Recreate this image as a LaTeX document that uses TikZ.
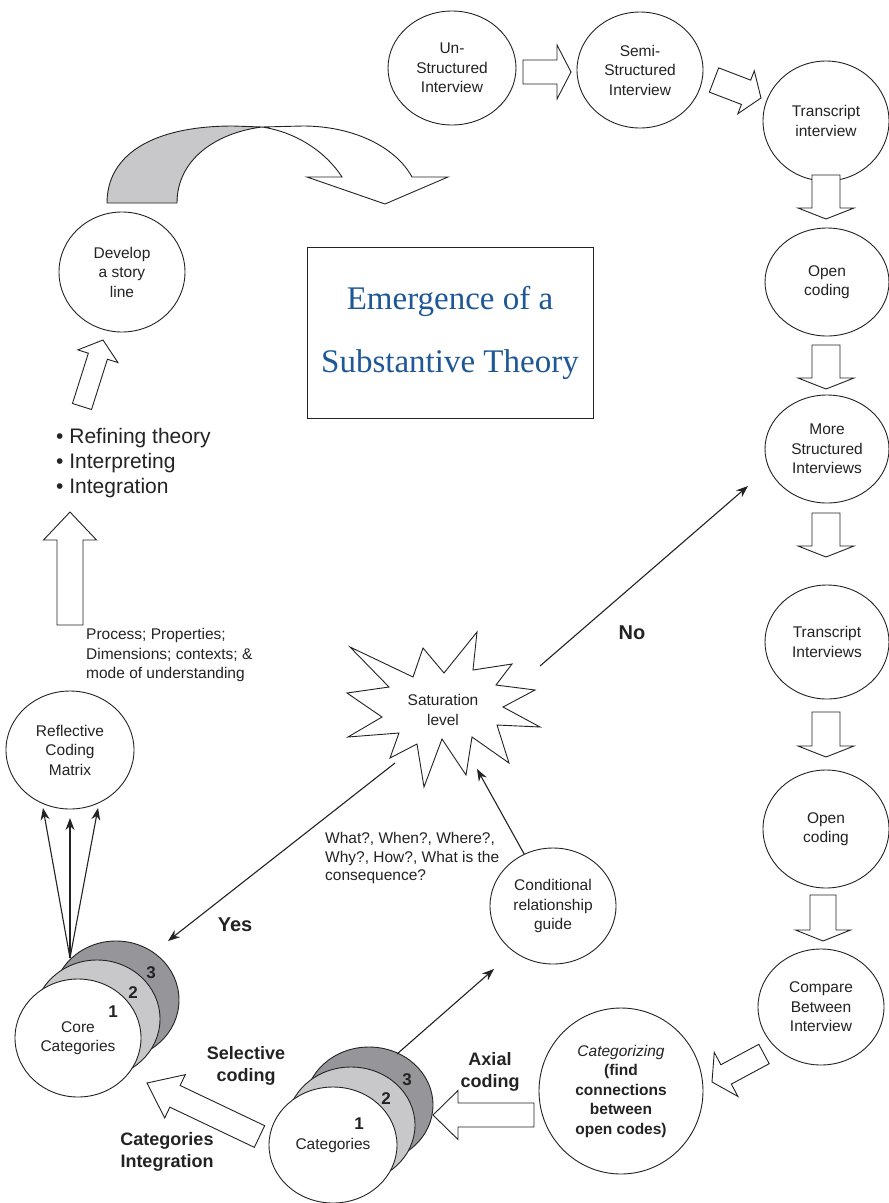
\documentclass[tikz,border=0pt]{standalone}
\usepackage{fontspec}
\setmainfont{Liberation Sans}
\newfontfamily\titlefont{Liberation Serif}
\usetikzlibrary{shapes.geometric,arrows.meta,calc}
\definecolor{ink}{RGB}{35,35,35}
\definecolor{titleblue}{RGB}{30,88,150}
\definecolor{lightgrey}{RGB}{200,200,203}
\definecolor{darkgrey}{RGB}{150,150,154}
% hollow block arrow: #1 tail centre, #2 tip, #3 shaft half-width, #4 head half-width, #5 head length
\newcommand{\blockarrow}[5]{%
  \coordinate (bah) at ($#2!#5!#1$);
  \draw[hollowarrow] ($#1!#3!90:#2$) -- ($(bah)!#3!90:#2$) -- ($(bah)!#4!90:#2$) -- #2
    -- ($(bah)!#4!-90:#2$) -- ($(bah)!#3!-90:#2$) -- ($#1!#3!-90:#2$) -- cycle;}
\begin{document}
\begin{tikzpicture}[x=1pt,y=-1pt,
  bubble/.style={ellipse,draw=ink,line width=0.9pt,fill=white,inner sep=0pt,align=center,
    text=ink,font=\fontsize{15.5}{19.5}\selectfont},
  hollowarrow/.style={draw=ink,fill=white,line width=0.9pt,line join=miter},
  conn/.style={draw=ink,line width=1.1pt,-{Stealth[length=12pt,width=9pt]}},
  lbl/.style={text=ink,align=left,inner sep=0pt,font=\fontsize{15.5}{19.5}\selectfont},
  boldlbl/.style={text=ink,align=center,inner sep=0pt,font=\fontsize{18}{21.5}\selectfont\bfseries},
  num/.style={text=ink,inner sep=0pt,font=\fontsize{17}{20}\selectfont\bfseries}]
\path[use as bounding box,fill=white] (0,0) rectangle (889,1203);

% ---- interview circles along the top and right ----
\node[bubble,minimum width=128pt,minimum height=114pt] (un) at (452,68) {Un-\\Structured\\Interview};
\node[bubble,minimum width=126pt,minimum height=116pt] (semi) at (640,70) {Semi-\\Structured\\Interview};
\node[bubble,minimum width=126pt,minimum height=120pt] (trans1) at (826,121) {Transcript\\interview};
\node[bubble,minimum width=124pt,minimum height=108pt] (open1) at (827,282) {Open\\coding};
\node[bubble,minimum width=124pt,minimum height=108pt] (more) at (827,449) {More\\Structured\\Interviews};
\node[bubble,minimum width=124pt,minimum height=114pt] (trans2) at (827,642) {Transcript\\Interviews};
\node[bubble,minimum width=126pt,minimum height=118pt] (open2) at (826,829) {Open\\coding};
\node[bubble,minimum width=126pt,minimum height=116pt] (compare) at (821,1007) {Compare\\Between\\Interview};
\node[bubble,minimum width=164pt,minimum height=166pt] (categ) at (621,1091)
  {\itshape Categorizing\\\bfseries (find\\\bfseries connections\\\bfseries between\\\bfseries open codes)};
\node[bubble,minimum width=126pt,minimum height=116pt] (cond) at (553,906) {Conditional\\relationship\\guide};
\node[bubble,minimum width=128pt,minimum height=118pt] (reflect) at (70,750) {Reflective\\Coding\\Matrix};
\node[bubble,minimum width=126pt,minimum height=120pt] (story) at (122,272) {Develop\\a story\\line};

% ---- stacked category circles ----
\node[bubble,fill=darkgrey,minimum width=126pt,minimum height=118pt] (core3) at (116,1000) {};
\node[bubble,fill=lightgrey,minimum width=126pt,minimum height=118pt] (core2) at (97,1019) {};
\node[bubble,minimum width=126pt,minimum height=118pt] (core) at (78,1038) {Core\\Categories};
\node[num] (c1) at (113,1012) {1};
\node[num] (c2) at (133,993) {2};
\node[num] (c3) at (151,973) {3};

\node[bubble,fill=darkgrey,minimum width=128pt,minimum height=116pt] (cat3) at (369,1105) {};
\node[bubble,fill=lightgrey,minimum width=128pt,minimum height=116pt] (cat2) at (351,1125) {};
\node[bubble,minimum width=128pt,minimum height=116pt] (cat) at (333,1145) {Categories};
\node[num] (k1) at (359,1124) {1};
\node[num] (k2) at (386,1099) {2};
\node[num] (k3) at (407,1080) {3};

% ---- central title box ----
\node[draw=ink,line width=0.9pt,minimum width=286pt,minimum height=171pt,align=center,
  text=titleblue,font=\titlefont\fontsize{33}{63}\selectfont] (theory) at (450,332.5)
  {Emergence of a\\Substantive Theory};

% ---- saturation starburst ----
\draw[draw=ink,line width=0.9pt,fill=white,line join=miter]
  (477,632) -- (473,670) -- (512,664) -- (496,685) -- (535,690) -- (503,707) -- (540,727)
  -- (497,725) -- (509,763) -- (472,737) -- (466,775) -- (442,739) -- (424,787) -- (417,744)
  -- (390,758) -- (399,733) -- (348,737) -- (382,717) -- (347,693) -- (389,687) -- (350,647)
  -- (413,677) -- (423,648) -- (444,673) -- cycle;
\node[bubble,draw=none,fill=none] (sat) at (443,710) {Saturation\\level};

% ---- hollow block arrows ----
\blockarrow{(523,72)}{(571,72)}{12pt}{27pt}{14pt}
\blockarrow{(714,80)}{(761,98)}{13pt}{23pt}{16pt}
\blockarrow{(826,175)}{(826,219)}{14pt}{28pt}{11pt}
\blockarrow{(826,345)}{(826,389)}{14pt}{28pt}{11pt}
\blockarrow{(826,513)}{(826,557)}{14pt}{28pt}{11pt}
\blockarrow{(826,712)}{(826,757)}{14pt}{28pt}{11pt}
\blockarrow{(823,895)}{(823,941)}{13pt}{27.5pt}{11pt}
\blockarrow{(764,1054)}{(712,1082)}{11pt}{25pt}{16pt}
\blockarrow{(534,1115)}{(433,1115)}{12pt}{24.5pt}{25pt}
\blockarrow{(259.5,1136.5)}{(147,1083)}{12pt}{24pt}{31pt}
\blockarrow{(70,625)}{(70,512)}{13pt}{26.5pt}{28pt}
\blockarrow{(82,406.5)}{(103,340)}{10pt}{21pt}{17pt}

% ---- curved arrow over the title ----
\draw[draw=ink,line width=0.9pt,fill=lightgrey,line join=miter]
  (107,203) .. controls (107,155) and (152,126) .. (233,126) -- (262,127)
  .. controls (215,133) and (177,160) .. (177,203) -- cycle;
\draw[draw=ink,line width=0.9pt,fill=white,line join=miter]
  (262,127) -- (303,126) .. controls (352,126) and (395,146) .. (412,177)
  -- (448,177) -- (385,204) -- (307,177) -- (342,177)
  .. controls (326,152) and (296,132) .. (262,127) -- cycle;

% ---- thin connectors ----
\coordinate (noFrom) at (540,666);
\coordinate (noTo) at (748,486);
\coordinate (yesFrom) at (395,763);
\coordinate (yesTo) at (168,941);
\coordinate (guideTo) at (477,769);
\coordinate (axialFrom) at (397,1054);
\coordinate (axialTo) at (494,969);
\coordinate (fan) at (70,958);
\coordinate (fanA) at (43,808);
\coordinate (fanB) at (70,818);
\coordinate (fanC) at (98,808);
\draw[conn] (noFrom) -- (noTo);
\draw[conn] (yesFrom) -- (yesTo);
\draw[conn] (cond) -- (guideTo);
\draw[conn] (axialFrom) -- (axialTo);
\draw[conn] (fan) -- (fanA);
\draw[conn] (fan) -- (fanB);
\draw[conn] (fan) -- (fanC);

% ---- free labels ----
\node[lbl,anchor=west,font=\fontsize{21}{25}\selectfont] (steps) at (56,463)
  {• Refining theory\\• Interpreting\\• Integration};
\node[lbl,anchor=west] (props) at (86,655)
  {Process; Properties;\\Dimensions; contexts; \&\\mode of understanding};
\node[lbl,anchor=west,font=\fontsize{15.5}{18.5}\selectfont] (questions) at (325,858)
  {What?, When?, Where?,\\Why?, How?, What is the\\consequence?};
\node[boldlbl,font=\fontsize{20}{24}\selectfont\bfseries] (yes) at (235,925) {Yes};
\node[boldlbl,font=\fontsize{20}{24}\selectfont\bfseries] (no) at (632,633) {No};
\node[boldlbl] (selective) at (246,1066) {Selective\\coding};
\node[boldlbl] (integ) at (167,1152) {Categories\\Integration};
\node[boldlbl] (axial) at (490,1072) {Axial\\coding};
\end{tikzpicture}
\end{document}
